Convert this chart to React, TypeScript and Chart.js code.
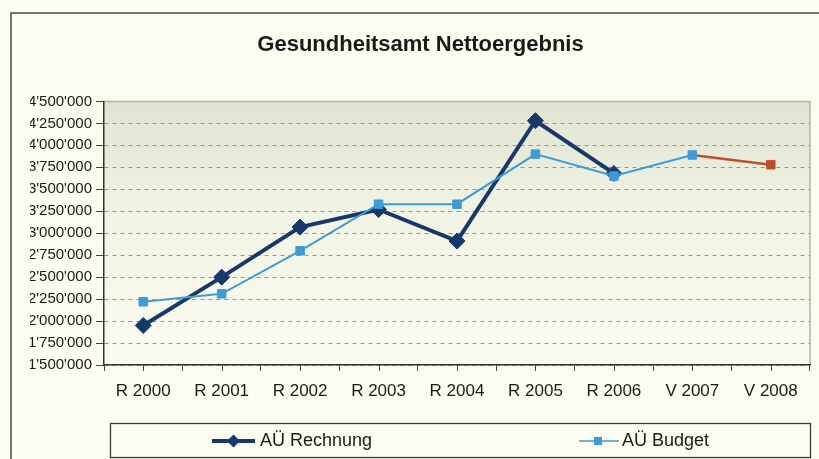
import React, { useEffect, useRef } from "react";
import { Chart, registerables } from "chart.js";

Chart.register(...registerables);

const chartTitle = "Gesundheitsamt Nettoergebnis";
const categories = ["R 2000", "R 2001", "R 2002", "R 2003", "R 2004", "R 2005", "R 2006", "V 2007", "V 2008"];
const seriesNames = ["AÜ Rechnung", "AÜ Budget"];
const rechnung = [1950000, 2500000, 3070000, 3270000, 2910000, 4280000, 3680000, null, null];
const budget = [2220000, 2310000, 2800000, 3330000, 3330000, 3900000, 3650000, 3890000, 3780000];
const highlightIndex = 8; // V 2008 budget shown in red
const yMin = 1500000;
const yMax = 4500000;
const yStep = 250000;

const FONT = "'Liberation Sans', Arial, Helvetica, sans-serif";
const NAVY = "#17386b";
const LIGHT = "#3d9bd6";
const RED = "#c0502a";

const fmt = (v: number) => Math.round(v).toString().replace(/\B(?=(\d{3})+(?!\d))/g, "'");

const decor = {
  id: "decor",
  beforeDraw(chart: any) {
    const { ctx, chartArea: a, width, height } = chart;
    ctx.save();
    ctx.fillStyle = "#fcfcf1";
    ctx.fillRect(0, 0, width, height);
    const g = ctx.createLinearGradient(0, a.top, 0, a.bottom);
    g.addColorStop(0, "#e1e4d1");
    g.addColorStop(0.45, "#f2f4e5");
    g.addColorStop(1, "#fbfcf0");
    ctx.fillStyle = g;
    ctx.fillRect(a.left, a.top, a.right - a.left, a.bottom - a.top);
    ctx.strokeStyle = "#b3b5a8";
    ctx.lineWidth = 1.5;
    ctx.beginPath();
    ctx.moveTo(a.left, a.top);
    ctx.lineTo(a.right, a.top);
    ctx.lineTo(a.right, a.bottom);
    ctx.stroke();
    // outer chart frame
    ctx.strokeStyle = "#4a4a44";
    ctx.lineWidth = 1.5;
    ctx.beginPath();
    ctx.moveTo(11, height);
    ctx.lineTo(11, 13);
    ctx.lineTo(width, 13);
    ctx.stroke();
    ctx.restore();
  },
  afterDraw(chart: any) {
    const { ctx, chartArea: a } = chart;
    const xs = chart.scales.x;
    ctx.save();
    // minor ticks at category centres
    ctx.strokeStyle = "#444";
    ctx.lineWidth = 1;
    categories.forEach((_, i) => {
      const x = Math.round(xs.getPixelForValue(i)) + 0.5;
      ctx.beginPath();
      ctx.moveTo(x, a.bottom);
      ctx.lineTo(x, a.bottom + 6);
      ctx.stroke();
    });
    // legend box
    const lx = a.left + 6;
    const ly = 423;
    const lw = a.right - lx;
    const lh = 34;
    ctx.strokeStyle = "#3c3c3c";
    ctx.lineWidth = 1.3;
    ctx.strokeRect(lx + 0.5, ly + 0.5, lw, lh);
    const cy = ly + 18;
    ctx.font = `18px ${FONT}`;
    ctx.fillStyle = "#1a1a1a";
    ctx.textBaseline = "middle";
    ctx.textAlign = "left";
    // item 1
    const x1 = lx + 102;
    ctx.strokeStyle = NAVY;
    ctx.lineWidth = 4;
    ctx.beginPath();
    ctx.moveTo(x1, cy);
    ctx.lineTo(x1 + 43, cy);
    ctx.stroke();
    ctx.fillStyle = NAVY;
    ctx.beginPath();
    ctx.moveTo(x1 + 21.5, cy - 6.5);
    ctx.lineTo(x1 + 28, cy);
    ctx.lineTo(x1 + 21.5, cy + 6.5);
    ctx.lineTo(x1 + 15, cy);
    ctx.closePath();
    ctx.fill();
    ctx.fillStyle = "#1a1a1a";
    ctx.fillText(seriesNames[0], x1 + 48, cy);
    // item 2
    const x2 = lx + 469;
    ctx.strokeStyle = LIGHT;
    ctx.lineWidth = 1.5;
    ctx.beginPath();
    ctx.moveTo(x2, cy);
    ctx.lineTo(x2 + 40, cy);
    ctx.stroke();
    ctx.fillStyle = LIGHT;
    ctx.fillRect(x2 + 15, cy - 4, 8, 8);
    ctx.fillStyle = "#1a1a1a";
    ctx.fillText(seriesNames[1], x2 + 43, cy);
    ctx.restore();
  },
};

export default function App() {
  const ref = useRef<HTMLCanvasElement | null>(null);
  useEffect(() => {
    if (!ref.current) return;
    const chart = new Chart(ref.current, {
      type: "line",
      data: {
        labels: categories,
        datasets: [
          {
            label: seriesNames[0],
            data: rechnung,
            borderColor: NAVY,
            backgroundColor: NAVY,
            borderWidth: 4,
            pointStyle: "rectRot",
            pointRadius: 8,
            pointBackgroundColor: NAVY,
            pointBorderColor: NAVY,
            pointBorderWidth: 1,
            tension: 0,
            order: 1,
          },
          {
            label: seriesNames[1],
            data: budget,
            borderColor: LIGHT,
            backgroundColor: LIGHT,
            borderWidth: 2,
            pointStyle: "rect",
            pointRadius: 6,
            pointBackgroundColor: budget.map((_, i) => (i === highlightIndex ? RED : LIGHT)),
            pointBorderColor: budget.map((_, i) => (i === highlightIndex ? RED : LIGHT)),
            pointBorderWidth: 1,
            tension: 0,
            order: 0,
            segment: {
              borderColor: (c: any) => (c.p1DataIndex === highlightIndex ? RED : LIGHT),
              borderWidth: (c: any) => (c.p1DataIndex === highlightIndex ? 2.5 : 2),
            },
          },
        ],
      },
      options: {
        responsive: false,
        animation: false,
        layout: { padding: { left: 30, right: 8, top: 0, bottom: 0 } },
        plugins: {
          legend: { display: false },
          tooltip: { enabled: false },
          title: {
            display: true,
            text: chartTitle,
            color: "#1a1a1a",
            font: { family: FONT, size: 22, weight: "bold" },
            padding: { top: 32, bottom: 43 },
          },
        },
        scales: {
          x: {
            type: "category",
            offset: true,
            afterFit: (s: any) => {
              s.height = 94;
            },
            grid: {
              display: true,
              offset: true,
              drawOnChartArea: false,
              drawTicks: true,
              tickLength: 6,
              tickColor: "#444",
            },
            border: { display: true, color: "#333", width: 1.5 },
            ticks: {
              color: "#1a1a1a",
              font: { family: FONT, size: 17 },
              padding: 10,
              maxRotation: 0,
              autoSkip: false,
            },
          },
          y: {
            min: yMin,
            max: yMax,
            afterFit: (s: any) => {
              s.width = 74;
            },
            grid: {
              display: true,
              color: (c: any) => (c.tick && c.tick.value === yMax ? "rgba(0,0,0,0)" : "#94958c"),
              lineWidth: 1,
              drawTicks: true,
              tickLength: 8,
              tickColor: "#444",
              tickBorderDash: [],
            },
            border: { display: true, color: "#333", width: 1.5, dash: [4, 4] },
            ticks: {
              stepSize: yStep,
              color: "#1a1a1a",
              font: { family: FONT, size: 15 },
              padding: 4,
              callback: (v: any) => fmt(Number(v)),
            },
          },
        },
      },
      plugins: [decor],
    } as any);
    return () => chart.destroy();
  }, []);
  return (
    <div style={{ position: "fixed", left: 0, top: 0, width: 819, height: 459 }}>
      <canvas ref={ref} width={819} height={459} style={{ display: "block" }} />
    </div>
  );
}
